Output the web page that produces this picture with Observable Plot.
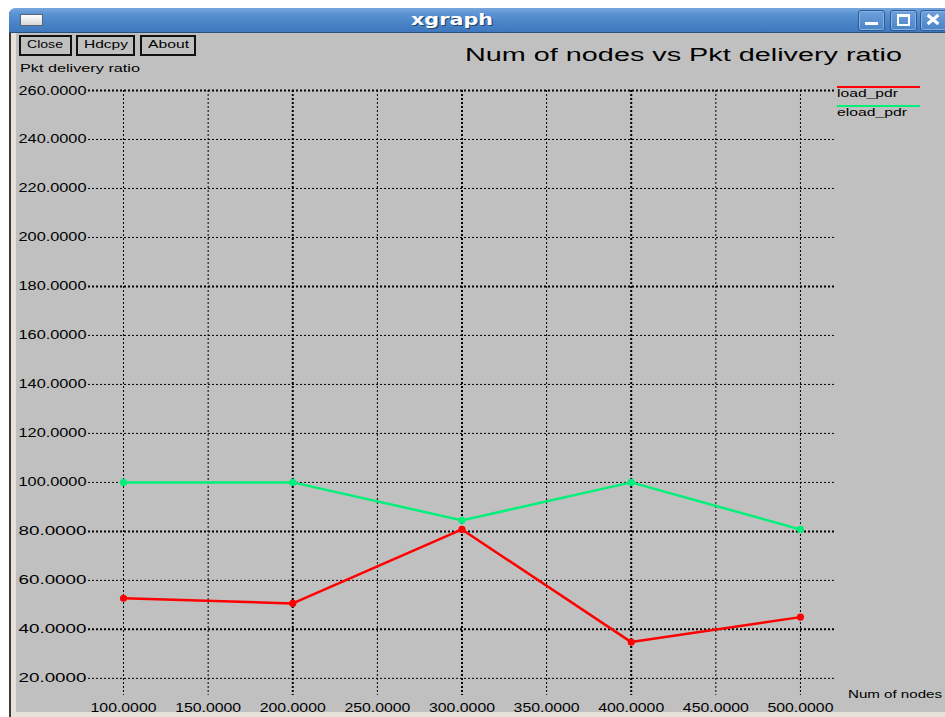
<!DOCTYPE html>
<html>
<head>
<meta charset="utf-8">
<script src="https://cdn.jsdelivr.net/npm/d3@7"></script>
<script src="https://cdn.jsdelivr.net/npm/@observablehq/plot@0.6"></script>
<style>
  body { margin: 0; background: #ffffff; overflow: hidden; }
  #win { position: relative; width: 945px; height: 717px; overflow: hidden; font-family: "Liberation Sans", Arial, sans-serif; }
  .abs { position: absolute; }
  #client { left: 16px; top: 33px; width: 929px; height: 679px; background: #c0c0c0; }
  #bdark { left: 9px; top: 12px; width: 2px; height: 705px; background: #3a3a3a; }
  #blight { left: 11px; top: 33px; width: 5px; height: 684px; background: #e6e2da; }
  #bbottom { left: 11px; top: 712px; width: 934px; height: 5px; background: #e6e2da; }
  #titlebar { left: 9px; top: 8px; width: 940px; height: 25px; border-top-left-radius: 6px;
    background: linear-gradient(#79a7dd 0%, #5a92d3 25%, #4a85c8 60%, #3e77bd 100%);
    border-bottom: 1px solid #2c4f80; box-sizing: border-box; }
  #icon { left: 20px; top: 14px; width: 21px; height: 10px; border: 1px solid #5c6470;
    background: linear-gradient(#ffffff, #d6d6d6); }
  .ctl { top: 10px; width: 25px; height: 19px; border: 1px solid #2d5a95; border-radius: 3px;
    background: linear-gradient(#6fa0da, #4a84c7); box-shadow: inset 0 0 0 1px #86b2e4; }
  .xbar { position: absolute; left: 926px; top: 18px; width: 14px; height: 3px; background: #ffffff; z-index: 10; }
  .txt { position: absolute; white-space: nowrap; line-height: 1; transform-origin: 0 0; color: #000; }
  .btn { top: 35px; height: 21px; border: 2px solid #111; box-sizing: border-box; background: #c0c0c0; }
  #plotwrap { position: absolute; left: 0; top: 0; }
  .leg { position: absolute; height: 2px; }
</style>
</head>
<body>
<div id="win">
  <div id="client" class="abs"></div>
  <div id="bdark" class="abs"></div>
  <div id="blight" class="abs"></div>
  <div id="bbottom" class="abs"></div>
  <div id="titlebar" class="abs"></div>
  <div id="icon" class="abs"></div>
  <div class="abs ctl" style="left:858px"></div>
  <div class="abs ctl" style="left:890px"></div>
  <div class="abs ctl" style="left:920px"></div>
  <div class="abs" style="left:865px;top:22px;width:13px;height:3px;background:#fff"></div>
  <div class="abs" style="left:897px;top:14px;width:9px;height:7px;border:2px solid #fff;border-top-width:3px"></div>
  <div class="abs btn" style="left:19px;width:53px"></div>
  <div class="abs btn" style="left:76px;width:59px"></div>
  <div class="abs btn" style="left:140px;width:56px"></div>
  <div id="plotwrap"></div>
  <div class="xbar" style="transform:rotate(40deg)"></div>
  <div class="xbar" style="transform:rotate(-40deg)"></div>
  <div class="leg" style="left:837px;top:86px;width:83px;background:#ff0000"></div>
  <div class="leg" style="left:837px;top:105px;width:83px;background:#00f07a"></div>
</div>
<script>
// ---- data ----
const nodes = [100, 200, 300, 400, 500];
const loadPdr = [52.7, 50.6, 80.8, 34.8, 45.0];
const eloadPdr = [100, 100, 84.5, 100, 80.8];
const seriesNames = ["load_pdr", "eload_pdr"];
const xTicks = [100, 150, 200, 250, 300, 350, 400, 450, 500];
const yTicks = [20, 40, 60, 80, 100, 120, 140, 160, 180, 200, 220, 240, 260];
const titleText = "Num of nodes vs Pkt delivery ratio";
const yLabel = "Pkt delivery ratio";
const xLabel = "Num of nodes";

const rows = [];
nodes.forEach((n, i) => rows.push({ x: n, y: loadPdr[i], s: seriesNames[0] }));
nodes.forEach((n, i) => rows.push({ x: n, y: eloadPdr[i], s: seriesNames[1] }));

const colors = { "load_pdr": "#ff0000", "eload_pdr": "#00f07a" };
const boldX = new Set([200, 300, 400]);
const boldY = new Set([40, 80, 180, 260]);
const fmt = d3.format(".4f");

const chart = Plot.plot({
  width: 945,
  height: 717,
  marginLeft: 88,
  marginRight: 109,
  marginTop: 90,
  marginBottom: 22,
  style: { background: "transparent", color: "#000", fontFamily: "'Liberation Sans', Arial, sans-serif", fontSize: "13px", overflow: "visible" },
  x: { domain: [79.3, 521.3] },
  y: { domain: [13, 260] },
  color: { domain: seriesNames, range: seriesNames.map(s => colors[s]) },
  marks: [
    Plot.ruleX(xTicks, { x: d => d, stroke: "#000", strokeWidth: d => boldX.has(d) ? 2 : 1, strokeDasharray: "2,2" }),
    Plot.ruleY(yTicks, { y: d => d, stroke: "#000", strokeWidth: d => boldY.has(d) ? 2 : 1, strokeDasharray: "2,2" }),
    Plot.axisY({ ticks: yTicks, tickFormat: fmt, tickSize: 0, tickPadding: 2, label: null, fontSize: 12.5 }),
    Plot.axisX({ ticks: xTicks, tickFormat: fmt, tickSize: 0, tickPadding: 7, label: null, fontSize: 13 }),
    Plot.line(rows, { x: "x", y: "y", z: "s", stroke: "s", strokeWidth: 2.5 }),
    Plot.dot(rows, { x: "x", y: "y", fill: "s", r: 3.6 })
  ]
});
document.getElementById("plotwrap").appendChild(chart);

chart.querySelectorAll('[aria-label="y-axis tick label"] text').forEach(t => {
  t.setAttribute("textLength", 68); t.setAttribute("lengthAdjust", "spacingAndGlyphs");
});
chart.querySelectorAll('[aria-label="x-axis tick label"] text').forEach(t => {
  t.setAttribute("textLength", 66); t.setAttribute("lengthAdjust", "spacingAndGlyphs");
});

// ---- chrome texts (fitted horizontally) ----
const win = document.getElementById("win");
function addText(str, { left, baseline, width, size, weight = "normal", family = "'Liberation Sans', Arial, sans-serif", color = "#000", shadow = null }) {
  const el = document.createElement("div");
  el.className = "txt";
  el.textContent = str;
  el.style.fontSize = size + "px";
  el.style.fontWeight = weight;
  el.style.fontFamily = family;
  el.style.color = color;
  if (shadow) el.style.textShadow = shadow;
  el.style.left = left + "px";
  el.style.top = (baseline - size * 0.85) + "px";
  win.appendChild(el);
  const w = el.getBoundingClientRect().width;
  el.style.transform = `scaleX(${width / w})`;
  return el;
}
addText("xgraph", { left: 411, baseline: 26, width: 82, size: 16, weight: "bold", family: "'DejaVu Sans', sans-serif", color: "#fff", shadow: "1px 1px 0 #23466f" });
addText("Close", { left: 27, baseline: 49, width: 36, size: 11.5 });
addText("Hdcpy", { left: 84, baseline: 49, width: 44, size: 11.5 });
addText("About", { left: 148, baseline: 49, width: 41, size: 11.5 });
addText(titleText, { left: 465, baseline: 61, width: 437, size: 18 });
addText(yLabel, { left: 20, baseline: 73, width: 120, size: 11.5 });
addText(seriesNames[0], { left: 837, baseline: 98, width: 61, size: 11.5 });
addText(seriesNames[1], { left: 837, baseline: 117, width: 70, size: 11.5 });
addText(xLabel, { left: 848, baseline: 698, width: 94, size: 11 });
</script>
</body>
</html>
